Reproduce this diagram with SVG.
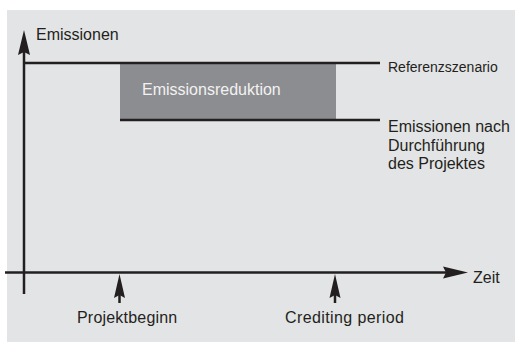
<svg xmlns="http://www.w3.org/2000/svg" width="515" height="343" viewBox="0 0 515 343">
<style>
text{font-family:"Liberation Sans",Arial,sans-serif;font-size:16px;fill:#231f20}
.ln{stroke:#231f20;stroke-width:2.5;fill:none}
.hd{fill:#231f20}
</style>
<rect x="7" y="10" width="508" height="332" fill="#e3e4e5"/>
<g id="reduktion">
<rect x="120" y="63" width="216" height="57" fill="#8c8d90"/>
<text x="142" y="95" style="fill:#f2f2f2">Emissionsreduktion</text>
</g>
<g id="connectors">
<line class="ln" x1="24" y1="294" x2="24" y2="50"/>
<path class="hd" d="M24,30 L30,55 L24,52 L18,55 Z"/>
<line class="ln" x1="5" y1="272.5" x2="448" y2="272.5"/>
<path class="hd" d="M468,272.5 L443,266.5 L446,272.5 L443,278.5 Z"/>
<line class="ln" x1="24" y1="63" x2="380" y2="63"/>
<line class="ln" x1="120" y1="120" x2="380" y2="120"/>
<line class="ln" x1="119.5" y1="303" x2="119.5" y2="290"/>
<path class="hd" d="M119.5,274 L125,298 L119.5,295 L114,298 Z"/>
<line class="ln" x1="335" y1="303" x2="335" y2="290"/>
<path class="hd" d="M335,274 L340.5,298 L335,295 L329.5,298 Z"/>
</g>
<g id="y-label"><text x="36" y="40">Emissionen</text></g>
<g id="x-label"><text x="473" y="283">Zeit</text></g>
<g id="referenz"><text x="388" y="72" style="font-size:14px">Referenzszenario</text></g>
<g id="nach">
<text x="388" y="132">Emissionen nach</text>
<text x="388" y="151">Durchführung</text>
<text x="388" y="169">des Projektes</text>
</g>
<g id="projektbeginn"><text x="77" y="323" style="letter-spacing:0.2px">Projektbeginn</text></g>
<g id="crediting"><text x="285" y="323" style="letter-spacing:0.4px">Crediting period</text></g>
</svg>
